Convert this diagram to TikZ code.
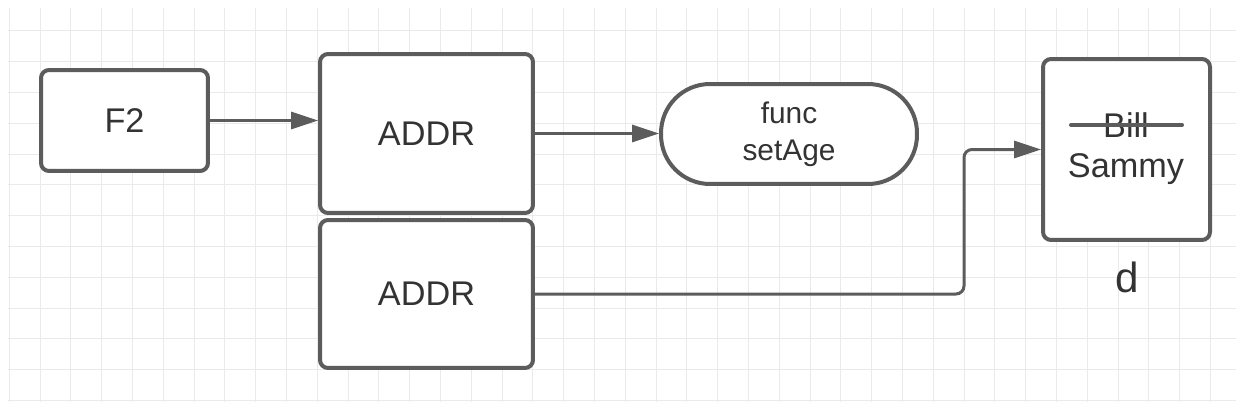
\documentclass[tikz,border=0pt]{standalone}
\usepackage{fontspec}
\setmainfont{Liberation Sans}
\usetikzlibrary{arrows.meta,calc}

\definecolor{boxgray}{RGB}{92,92,92}
\definecolor{textgray}{RGB}{51,51,51}
\definecolor{gridgray}{RGB}{234,234,234}

\tikzset{
  cell/.style={draw=boxgray, line width=0.08cm, rounded corners=0.16cm, fill=white,
    text=textgray, font=\fontsize{19.5}{22}\selectfont, inner sep=0pt},
  pill/.style={cell, rounded corners=0.98cm, font=\fontsize{17}{21}\selectfont, align=center},
  label/.style={text=textgray, font=\fontsize{19.5}{22}\selectfont, inner sep=0pt},
  link/.style={draw=boxgray, line width=0.06cm, -{Triangle[length=0.54cm,width=0.34cm]}},
  strike/.style={draw=boxgray, line width=0.08cm, line cap=round},
  gridline/.style={draw=gridgray, line width=0.02cm},
}

\begin{document}
\begin{tikzpicture}[x=0.02cm,y=-0.02cm]

\useasboundingbox[fill=white] (0,0) rectangle (1236,402);

% background grid
\foreach \gx in {0,...,39}
  \draw[gridline] ({9.2+30.8*\gx},8) -- ({9.2+30.8*\gx},402);
\foreach \gy in {1,...,13}
  \draw[gridline] (8,{30.8*\gy}) -- (1236,{30.8*\gy});

\node[cell, minimum width=3.34cm, minimum height=2.02cm] (f2) at (124.5,120.5) {F2};
\node[cell, minimum width=4.26cm, minimum height=3.18cm] (addra) at (426.5,133.5) {ADDR};
\node[cell, minimum width=4.26cm, minimum height=2.96cm] (addrb) at (426.5,294) {ADDR};
\node[pill, minimum width=5.12cm, minimum height=2.0cm] (func) at (789,134) {func\\setAge};
\node[cell, minimum width=3.34cm, minimum height=3.62cm] (mem) at (1126.5,149.5) {};

\node[label] (bill) at (1126,125) {Bill};
\node[label] (sammy) at (1126,169) {Sammy};
\node[label, font=\fontsize{24}{28}\selectfont] (dname) at (1127,277) {d};

\draw[strike] ($(bill)+(-55,0)$) -- ($(bill)+(56,0)$);

\coordinate (bend) at (964,293);

\draw[link] (f2.east) -- (f2.east -| addra.west);
\draw[link] (addra.east) -- (addra.east -| func.west);
\draw[link, rounded corners=0.16cm] (addrb.east) -- (addrb.east -| bend) |- (mem.west);

\end{tikzpicture}
\end{document}
